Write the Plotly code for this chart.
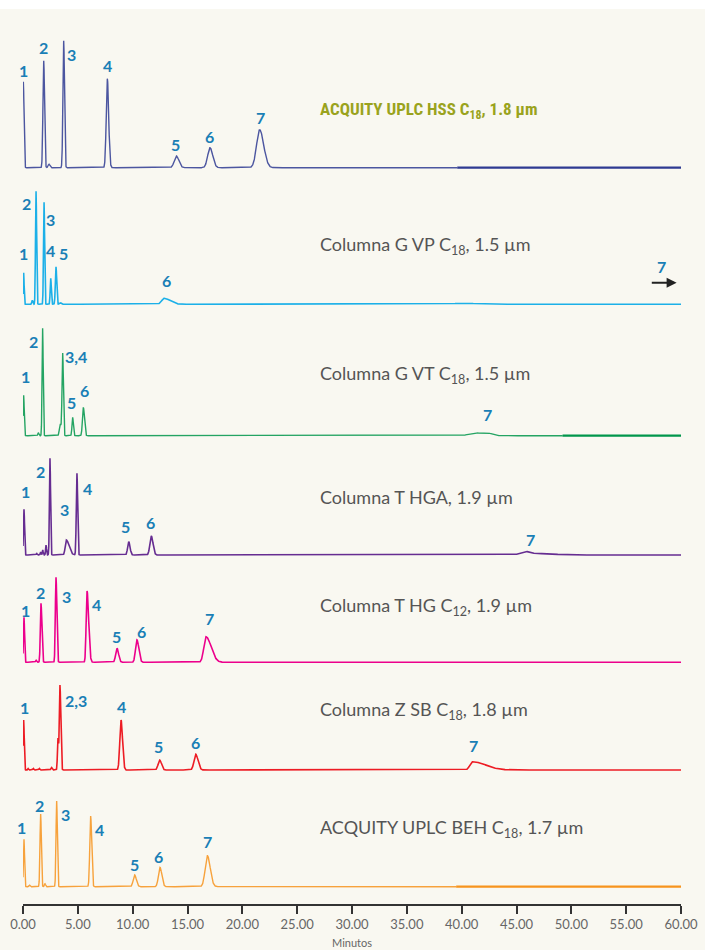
import numpy as np
import plotly.graph_objects as go

# ---------------- data ----------------
tick_vals = [0, 5, 10, 15, 20, 25, 30, 35, 40, 45, 50, 55, 60]
x_title = "Minutos"

column_names = [
    "ACQUITY UPLC HSS C<sub>18</sub>, 1.8 µm",
    "Columna G VP C<sub>18</sub>, 1.5 µm",
    "Columna G VT C<sub>18</sub>, 1.5 µm",
    "Columna T HGA, 1.9 µm",
    "Columna T HG C<sub>12</sub>, 1.9 µm",
    "Columna Z SB C<sub>18</sub>, 1.8 µm",
    "ACQUITY UPLC BEH C<sub>18</sub>, 1.7 µm",
]

# peak tables: retention time (min), height (a.u.), width sigma (min), tailing factor
hss_rt = [0.03, 1.89, 2.37, 3.71, 7.69, 13.98, 17.05, 21.58]
hss_h = [86, 107, 3.5, 127, 89, 11.7, 20, 38]
hss_w = [0.06, 0.07, 0.08, 0.07, 0.10, 0.19, 0.21, 0.28]
hss_tail = [1, 1, 1, 1, 1.2, 1.2, 1.2, 1.3]

gvp_rt = [0.06, 0.85, 1.19, 1.92, 2.53, 3.01, 3.4, 12.86, 40.3]
gvp_h = [31.6, 4, 113, 102, 26, 37.6, 1.5, 6, 1.0]
gvp_w = [0.04, 0.05, 0.05, 0.05, 0.05, 0.06, 0.08, 0.22, 1.2]
gvp_tail = [1, 1, 1, 1, 1, 1, 1, 2.5, 1]

gvt_rt = [0.06, 1.4, 1.79, 3.4, 3.62, 4.53, 5.5, 41.2, 42.3]
gvt_h = [40.4, 3, 107.4, 11.7, 82.4, 18.4, 28.4, 2.6, 2.6]
gvt_w = [0.05, 0.05, 0.05, 0.08, 0.06, 0.06, 0.08, 0.55, 0.45]
gvt_tail = [1, 1, 1, 1, 1, 1, 1.2, 1, 1]

thga_rt = [0.09, 1.25, 1.61, 1.8, 2.1, 2.46, 3.95, 4.92, 9.64, 11.7, 45.8, 47.4]
thga_h = [45.7, 1.5, 3, 5, 10, 96.7, 15, 81.7, 13.3, 19, 3, 1.4]
thga_w = [0.05, 0.04, 0.04, 0.04, 0.04, 0.05, 0.10, 0.06, 0.10, 0.13, 0.45, 1.1]
thga_tail = [1, 1, 1, 1, 1, 1, 2.5, 1, 1.2, 1.2, 1, 1]

thg_rt = [0.09, 1.19, 1.64, 3.01, 5.84, 8.57, 10.39, 16.69]
thg_h = [45, 2, 59, 85, 71.3, 14, 22.3, 25.6]
thg_w = [0.05, 0.05, 0.06, 0.06, 0.08, 0.12, 0.13, 0.2]
thg_tail = [1, 1, 1.3, 1.2, 1.8, 1.2, 1.3, 2.3]

zsb_rt = [0.06, 0.46, 0.94, 1.49, 2.6, 3.19, 3.37, 8.94, 12.46, 15.75, 40.97]
zsb_h = [50, 1.5, 1.5, 1.5, 2.5, 31, 85, 50, 10, 15.7, 8.3]
zsb_w = [0.05, 0.04, 0.04, 0.04, 0.06, 0.05, 0.06, 0.11, 0.14, 0.16, 0.22]
zsb_tail = [1, 1, 1, 1, 1, 1, 1.2, 1.2, 1.2, 1.3, 5.5]

beh_rt = [0.09, 0.6, 1.61, 2.0, 3.07, 6.17, 10.18, 12.49, 16.81]
beh_h = [47.4, 1.5, 72.7, 3, 85.7, 70.7, 11.7, 19.4, 31]
beh_w = [0.05, 0.05, 0.06, 0.05, 0.06, 0.08, 0.13, 0.14, 0.2]
beh_tail = [1, 1, 1, 1, 1, 1.1, 1.2, 1.2, 1.3]

# peak number labels: text, time (min), height (a.u.)
hss_lab = ["1", "2", "3", "4", "5", "6", "7"]
hss_lab_t = [0.0, 1.89, 4.44, 7.69, 13.89, 16.99, 21.7]
hss_lab_h = [97.7, 120, 113.4, 102.7, 23.7, 31.7, 50.4]

gvp_lab = ["1", "2", "3", "4", "5", "6", "7"]
gvp_lab_t = [0.0, 0.34, 2.53, 2.55, 3.67, 13.04, 58.24]
gvp_lab_h = [51, 101, 85, 53.6, 51, 24.3, 37.6]

gvt_lab = ["1", "2", "3,4", "5", "6", "7"]
gvt_lab_t = [0.25, 1.0, 4.83, 4.44, 5.65, 42.37]
gvt_lab_h = [59, 94, 79, 33, 45, 20.7]

thga_lab = ["1", "2", "3", "4", "5", "6", "7"]
thga_lab_t = [0.25, 1.64, 3.74, 5.86, 9.39, 11.67, 46.32]
thga_lab_h = [63.3, 83.3, 45.7, 66.7, 28.3, 32.3, 15.7]

thg_lab = ["1", "2", "3", "4", "5", "6", "7"]
thg_lab_t = [0.27, 1.61, 3.98, 6.66, 8.48, 10.79, 16.99]
thg_lab_h = [52.3, 69.6, 66.3, 58, 26.3, 30.6, 44]

zsb_lab = ["1", "2,3", "4", "5", "6", "7"]
zsb_lab_t = [0.16, 4.83, 9.0, 12.4, 15.77, 41.12]
zsb_lab_h = [62.7, 70, 63.3, 24, 27.3, 25]

beh_lab = ["1", "2", "3", "4", "5", "6", "7"]
beh_lab_t = [0.0, 1.52, 3.89, 6.99, 10.19, 12.4, 16.84]
beh_lab_h = [59, 81, 72.4, 57.7, 22.7, 30.7, 45.7]

# "peak 7 elutes later" arrow on G VP panel (time range, height)
gvp_arrow_t = [57.2, 59.6]
gvp_arrow_h = 21.6

# ---------------- styles / layout ----------------
line_colors = ["#2e3a92", "#1cb0e8", "#00964b", "#662d91", "#ec008c", "#ed1c24", "#f7941d"]
dark_from = [39.6, None, 49.2, None, None, None, 39.5]
baseline_px = [167.7, 304.3, 435.7, 555.0, 662.3, 770.0, 886.7]
title_h = [57, 58.6, 60.7, 58.3, 56.3, 59.3, 58.4]
title_t = 26.9
label_xshift = [0, 0, 0, 0, 0, 0, -2]

W, H = 705, 950
ML, MR, MT, MB = 23, 24, 0, 46
PH = H - MT - MB

peaks = [
    (hss_rt, hss_h, hss_w, hss_tail),
    (gvp_rt, gvp_h, gvp_w, gvp_tail),
    (gvt_rt, gvt_h, gvt_w, gvt_tail),
    (thga_rt, thga_h, thga_w, thga_tail),
    (thg_rt, thg_h, thg_w, thg_tail),
    (zsb_rt, zsb_h, zsb_w, zsb_tail),
    (beh_rt, beh_h, beh_w, beh_tail),
]
labels = [
    (hss_lab, hss_lab_t, hss_lab_h),
    (gvp_lab, gvp_lab_t, gvp_lab_h),
    (gvt_lab, gvt_lab_t, gvt_lab_h),
    (thga_lab, thga_lab_t, thga_lab_h),
    (thg_lab, thg_lab_t, thg_lab_h),
    (zsb_lab, zsb_lab_t, zsb_lab_h),
    (beh_lab, beh_lab_t, beh_lab_h),
]

t = np.arange(0, 60.0001, 0.01)


def chromatogram(rt, h, w, tail):
    y = np.zeros_like(t)
    for r, hh, s, k in zip(rt, h, w, tail):
        sig = np.where(t < r, s, s * k)
        y += hh * np.exp(-0.5 * ((t - r) / sig) ** 2)
    return y


fig = go.Figure()
layout_axes = {}
annotations = []
label_color = "#1a7fb6"

for i in range(7):
    yname = "y" if i == 0 else f"y{i+1}"
    lname = "yaxis" if i == 0 else f"yaxis{i+1}"
    b = baseline_px[i]
    top = 0 if i == 0 else baseline_px[i - 1] + 8
    bottom = PH if i == 6 else b + 8
    dom = [1 - bottom / PH, 1 - top / PH]
    layout_axes[lname] = dict(domain=dom, range=[-(bottom - b), b - top], visible=False,
                              fixedrange=True)
    y = chromatogram(*peaks[i])
    if dark_from[i] is None:
        fig.add_trace(go.Scatter(x=t, y=y, mode="lines", yaxis=yname,
                                 line=dict(color=line_colors[i], width=1.6), hoverinfo="skip"))
    else:
        m1 = t <= dark_from[i] + 0.01
        m2 = t >= dark_from[i]
        fig.add_trace(go.Scatter(x=t[m1], y=y[m1], mode="lines", yaxis=yname,
                                 line=dict(color=line_colors[i], width=1.4), opacity=0.85,
                                 hoverinfo="skip"))
        fig.add_trace(go.Scatter(x=t[m2], y=y[m2], mode="lines", yaxis=yname,
                                 line=dict(color=line_colors[i], width=2.2), hoverinfo="skip"))

    txt, lt, lh = labels[i]
    for j, (s, xx, yy) in enumerate(zip(txt, lt, lh)):
        annotations.append(dict(x=xx, y=yy, xref="x", yref=yname, text=f"<b>{s}</b>",
                                showarrow=False, xanchor="center", yanchor="middle",
                                xshift=label_xshift[i] if j == 0 else 0,
                                font=dict(family="Lato, Open Sans, sans-serif", size=16,
                                          color=label_color)))
    if i == 0:
        tfont = dict(family="Roboto Condensed, Liberation Sans Narrow, Roboto, sans-serif",
                     size=17, color="#9aa31d")
        ttext = f"<b>{column_names[i]}</b>"
    else:
        tfont = dict(family="Lato, Open Sans, sans-serif", size=18, color="#555555")
        ttext = column_names[i]
    annotations.append(dict(x=title_t, y=title_h[i], xref="x", yref=yname, text=ttext,
                            showarrow=False, xanchor="left", yanchor="middle", font=tfont))

# arrow for peak 7 on G VP panel
annotations.append(dict(x=gvp_arrow_t[1], y=gvp_arrow_h, ax=gvp_arrow_t[0], ay=gvp_arrow_h,
                        xref="x", yref="y2", axref="x", ayref="y2", text="", showarrow=True,
                        arrowhead=2, arrowsize=1, arrowwidth=2, arrowcolor="#222222"))

fig.update_layout(
    width=W, height=H,
    margin=dict(l=ML, r=MR, t=MT, b=MB),
    paper_bgcolor="#f9f8f1",
    plot_bgcolor="rgba(0,0,0,0)",
    showlegend=False,
    annotations=annotations,
    shapes=[dict(type="rect", xref="paper", yref="paper", x0=-0.1, x1=1.1,
                 y0=1 - 9 / PH, y1=1.0, fillcolor="white", line=dict(width=0), layer="below")],
    xaxis=dict(
        range=[0, 60], anchor="y7", showgrid=False, zeroline=False,
        showline=True, linecolor="#333333", linewidth=1.5,
        ticks="outside", ticklen=8, tickwidth=1.5, tickcolor="#333333",
        tickvals=tick_vals, tickformat=".2f",
        tickfont=dict(family="Lato, Open Sans, sans-serif", size=13, color="#666666"),
        title=dict(text=x_title, standoff=8,
                   font=dict(family="Lato, Open Sans, sans-serif", size=11, color="#666666")),
        fixedrange=True,
    ),
    **layout_axes,
)

fig.write_html("out.html")
